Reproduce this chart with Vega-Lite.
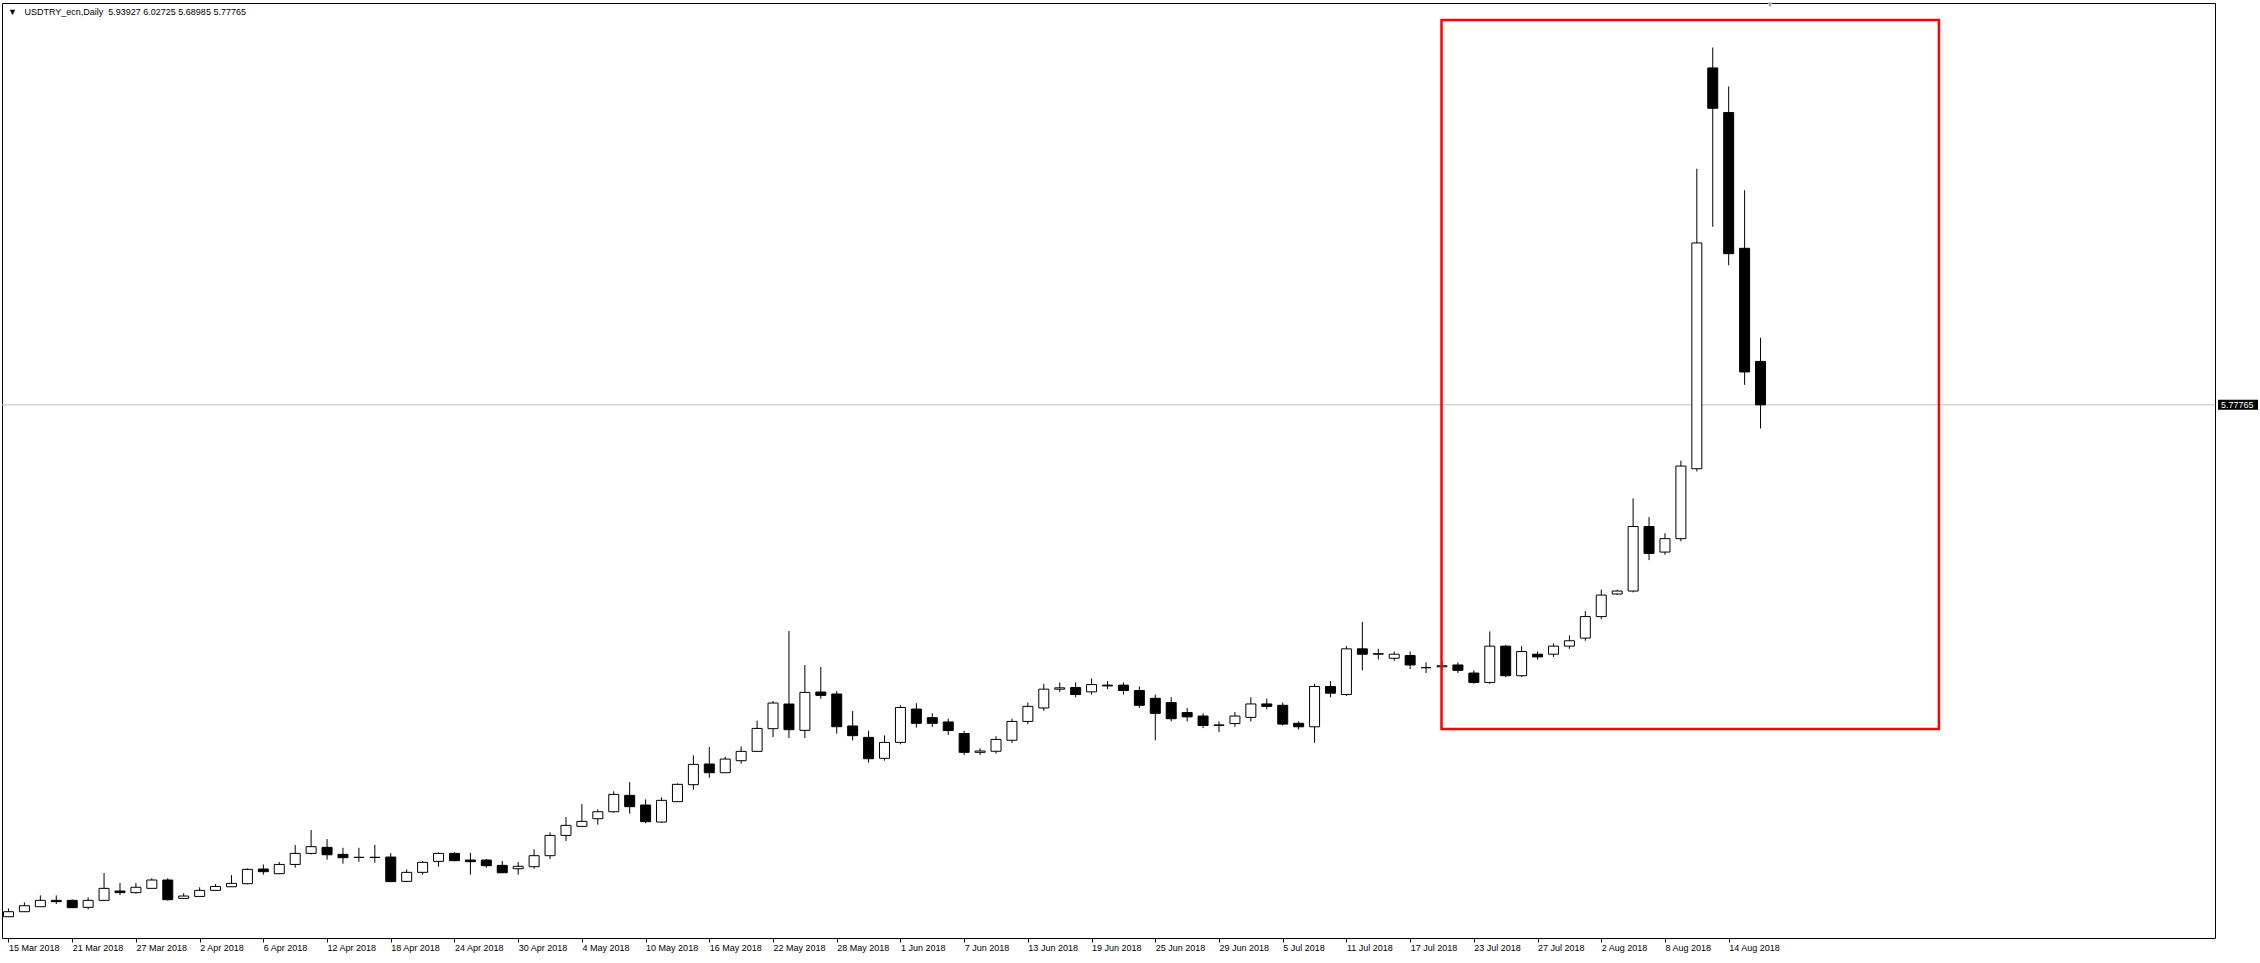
{
  "$schema": "https://vega.github.io/schema/vega-lite/v6.json",
  "width": 2213,
  "height": 935,
  "autosize": {"type": "none"},
  "padding": {"left": 2, "top": 3, "right": 45, "bottom": 25},
  "background": "white",
  "config": {
    "view": {"stroke": "black", "strokeWidth": 1},
    "font": "Liberation Sans"
  },
  "datasets": {
    "ohlc": [
      {"i":0,"date":"2018-03-15","o":3.8735,"h":3.9045,"l":3.8720,"c":3.8921},
      {"i":1,"date":"2018-03-16","o":3.8921,"h":3.9268,"l":3.8910,"c":3.9144},
      {"i":2,"date":"2018-03-19","o":3.9107,"h":3.9529,"l":3.9100,"c":3.9343},
      {"i":3,"date":"2018-03-20","o":3.9343,"h":3.9529,"l":3.9206,"c":3.9294},
      {"i":4,"date":"2018-03-21","o":3.9343,"h":3.9380,"l":3.9070,"c":3.9070},
      {"i":5,"date":"2018-03-22","o":3.9083,"h":3.9455,"l":3.9008,"c":3.9343},
      {"i":6,"date":"2018-03-23","o":3.9343,"h":4.0360,"l":3.9330,"c":3.9790},
      {"i":7,"date":"2018-03-26","o":3.9690,"h":3.9990,"l":3.9540,"c":3.9630},
      {"i":8,"date":"2018-03-27","o":3.9630,"h":3.9990,"l":3.9590,"c":3.9830},
      {"i":9,"date":"2018-03-28","o":3.9790,"h":4.0170,"l":3.9780,"c":4.0100},
      {"i":10,"date":"2018-03-29","o":4.0100,"h":4.0170,"l":3.9330,"c":3.9368},
      {"i":11,"date":"2018-03-30","o":3.9417,"h":3.9610,"l":3.9410,"c":3.9504},
      {"i":12,"date":"2018-04-02","o":3.9490,"h":3.9830,"l":3.9480,"c":3.9715},
      {"i":13,"date":"2018-04-03","o":3.9715,"h":3.9950,"l":3.9710,"c":3.9860},
      {"i":14,"date":"2018-04-04","o":3.9850,"h":4.0280,"l":3.9840,"c":3.9975},
      {"i":15,"date":"2018-04-05","o":3.9963,"h":4.0533,"l":3.9940,"c":4.0496},
      {"i":16,"date":"2018-04-06","o":4.0509,"h":4.0680,"l":4.0298,"c":4.0410},
      {"i":17,"date":"2018-04-09","o":4.0335,"h":4.0770,"l":4.0330,"c":4.0680},
      {"i":18,"date":"2018-04-10","o":4.0680,"h":4.1400,"l":4.0560,"c":4.1090},
      {"i":19,"date":"2018-04-11","o":4.1090,"h":4.1960,"l":4.1050,"c":4.1340},
      {"i":20,"date":"2018-04-12","o":4.1315,"h":4.1625,"l":4.0856,"c":4.1040},
      {"i":21,"date":"2018-04-13","o":4.1055,"h":4.1300,"l":4.0707,"c":4.0930},
      {"i":22,"date":"2018-04-16","o":4.0945,"h":4.1300,"l":4.0780,"c":4.0940},
      {"i":23,"date":"2018-04-17","o":4.0940,"h":4.1410,"l":4.0744,"c":4.0945},
      {"i":24,"date":"2018-04-18","o":4.0955,"h":4.1100,"l":4.0040,"c":4.0040},
      {"i":25,"date":"2018-04-19","o":4.0050,"h":4.0496,"l":4.0040,"c":4.0385},
      {"i":26,"date":"2018-04-20","o":4.0385,"h":4.0810,"l":4.0298,"c":4.0757},
      {"i":27,"date":"2018-04-23","o":4.0794,"h":4.1130,"l":4.0596,"c":4.1090},
      {"i":28,"date":"2018-04-24","o":4.1090,"h":4.1130,"l":4.0800,"c":4.0820},
      {"i":29,"date":"2018-04-25","o":4.0843,"h":4.1110,"l":4.0298,"c":4.0782},
      {"i":30,"date":"2018-04-26","o":4.0843,"h":4.0880,"l":4.0560,"c":4.0633},
      {"i":31,"date":"2018-04-27","o":4.0645,"h":4.0810,"l":4.0370,"c":4.0370},
      {"i":32,"date":"2018-04-30","o":4.0520,"h":4.0770,"l":4.0298,"c":4.0610},
      {"i":33,"date":"2018-05-01","o":4.0596,"h":4.1240,"l":4.0520,"c":4.1005},
      {"i":34,"date":"2018-05-02","o":4.1005,"h":4.1870,"l":4.0880,"c":4.1760},
      {"i":35,"date":"2018-05-03","o":4.1760,"h":4.2443,"l":4.1550,"c":4.2133},
      {"i":36,"date":"2018-05-04","o":4.2096,"h":4.2930,"l":4.2090,"c":4.2282},
      {"i":37,"date":"2018-05-07","o":4.2380,"h":4.2730,"l":4.2158,"c":4.2640},
      {"i":38,"date":"2018-05-08","o":4.2640,"h":4.3400,"l":4.2604,"c":4.3286},
      {"i":39,"date":"2018-05-09","o":4.3250,"h":4.3745,"l":4.2567,"c":4.2828},
      {"i":40,"date":"2018-05-10","o":4.2890,"h":4.3100,"l":4.2208,"c":4.2270},
      {"i":41,"date":"2018-05-11","o":4.2257,"h":4.3175,"l":4.2232,"c":4.3063},
      {"i":42,"date":"2018-05-14","o":4.3014,"h":4.3696,"l":4.3010,"c":4.3659},
      {"i":43,"date":"2018-05-15","o":4.3646,"h":4.4737,"l":4.3460,"c":4.4402},
      {"i":44,"date":"2018-05-16","o":4.4415,"h":4.5047,"l":4.3906,"c":4.4092},
      {"i":45,"date":"2018-05-17","o":4.4092,"h":4.4688,"l":4.4090,"c":4.4600},
      {"i":46,"date":"2018-05-18","o":4.4539,"h":4.5072,"l":4.4427,"c":4.4886},
      {"i":47,"date":"2018-05-21","o":4.4886,"h":4.6027,"l":4.4880,"c":4.5740},
      {"i":48,"date":"2018-05-22","o":4.5730,"h":4.6760,"l":4.5420,"c":4.6684},
      {"i":49,"date":"2018-05-23","o":4.6647,"h":4.9363,"l":4.5382,"c":4.5692},
      {"i":50,"date":"2018-05-24","o":4.5667,"h":4.8098,"l":4.5382,"c":4.7080},
      {"i":51,"date":"2018-05-25","o":4.7093,"h":4.8024,"l":4.6845,"c":4.6970},
      {"i":52,"date":"2018-05-28","o":4.7020,"h":4.7130,"l":4.5543,"c":4.5804},
      {"i":53,"date":"2018-05-29","o":4.5830,"h":4.6387,"l":4.5295,"c":4.5470},
      {"i":54,"date":"2018-05-30","o":4.5407,"h":4.5655,"l":4.4465,"c":4.4613},
      {"i":55,"date":"2018-05-31","o":4.4626,"h":4.5481,"l":4.4539,"c":4.5220},
      {"i":56,"date":"2018-06-01","o":4.5220,"h":4.6600,"l":4.5150,"c":4.6520},
      {"i":57,"date":"2018-06-04","o":4.6460,"h":4.6680,"l":4.5770,"c":4.5930},
      {"i":58,"date":"2018-06-05","o":4.6140,"h":4.6300,"l":4.5800,"c":4.5930},
      {"i":59,"date":"2018-06-06","o":4.5980,"h":4.6100,"l":4.5500,"c":4.5660},
      {"i":60,"date":"2018-06-07","o":4.5550,"h":4.5650,"l":4.4750,"c":4.4850},
      {"i":61,"date":"2018-06-08","o":4.4850,"h":4.5000,"l":4.4750,"c":4.4900},
      {"i":62,"date":"2018-06-11","o":4.4890,"h":4.5450,"l":4.4800,"c":4.5330},
      {"i":63,"date":"2018-06-12","o":4.5300,"h":4.6100,"l":4.5200,"c":4.6000},
      {"i":64,"date":"2018-06-13","o":4.6000,"h":4.6700,"l":4.5900,"c":4.6560},
      {"i":65,"date":"2018-06-14","o":4.6500,"h":4.7400,"l":4.6400,"c":4.7200},
      {"i":66,"date":"2018-06-15","o":4.7200,"h":4.7450,"l":4.7100,"c":4.7250},
      {"i":67,"date":"2018-06-18","o":4.7260,"h":4.7450,"l":4.6900,"c":4.7000},
      {"i":68,"date":"2018-06-19","o":4.7100,"h":4.7600,"l":4.7000,"c":4.7370},
      {"i":69,"date":"2018-06-20","o":4.7350,"h":4.7500,"l":4.7200,"c":4.7320},
      {"i":70,"date":"2018-06-21","o":4.7350,"h":4.7450,"l":4.7000,"c":4.7150},
      {"i":71,"date":"2018-06-22","o":4.7150,"h":4.7300,"l":4.6500,"c":4.6600},
      {"i":72,"date":"2018-06-25","o":4.6860,"h":4.7000,"l":4.5300,"c":4.6300},
      {"i":73,"date":"2018-06-26","o":4.6700,"h":4.6900,"l":4.6000,"c":4.6100},
      {"i":74,"date":"2018-06-27","o":4.6330,"h":4.6500,"l":4.6000,"c":4.6170},
      {"i":75,"date":"2018-06-28","o":4.6200,"h":4.6300,"l":4.5750,"c":4.5850},
      {"i":76,"date":"2018-06-29","o":4.5850,"h":4.6000,"l":4.5600,"c":4.5870},
      {"i":77,"date":"2018-07-02","o":4.5920,"h":4.6350,"l":4.5800,"c":4.6200},
      {"i":78,"date":"2018-07-03","o":4.6150,"h":4.6900,"l":4.6000,"c":4.6650},
      {"i":79,"date":"2018-07-04","o":4.6650,"h":4.6850,"l":4.6450,"c":4.6560},
      {"i":80,"date":"2018-07-05","o":4.6600,"h":4.6700,"l":4.5850,"c":4.5900},
      {"i":81,"date":"2018-07-06","o":4.5930,"h":4.6000,"l":4.5700,"c":4.5800},
      {"i":82,"date":"2018-07-09","o":4.5800,"h":4.7400,"l":4.5200,"c":4.7300},
      {"i":83,"date":"2018-07-10","o":4.7300,"h":4.7500,"l":4.6900,"c":4.7050},
      {"i":84,"date":"2018-07-11","o":4.7000,"h":4.8800,"l":4.6950,"c":4.8700},
      {"i":85,"date":"2018-07-12","o":4.8700,"h":4.9700,"l":4.7900,"c":4.8500},
      {"i":86,"date":"2018-07-13","o":4.8500,"h":4.8700,"l":4.8300,"c":4.8520},
      {"i":87,"date":"2018-07-16","o":4.8350,"h":4.8600,"l":4.8250,"c":4.8500},
      {"i":88,"date":"2018-07-17","o":4.8450,"h":4.8600,"l":4.7950,"c":4.8100},
      {"i":89,"date":"2018-07-18","o":4.8000,"h":4.8200,"l":4.7800,"c":4.8000},
      {"i":90,"date":"2018-07-19","o":4.8030,"h":4.8250,"l":4.7900,"c":4.8070},
      {"i":91,"date":"2018-07-20","o":4.8100,"h":4.8200,"l":4.7800,"c":4.7900},
      {"i":92,"date":"2018-07-23","o":4.7800,"h":4.7900,"l":4.7400,"c":4.7450},
      {"i":93,"date":"2018-07-24","o":4.7450,"h":4.9350,"l":4.7400,"c":4.8800},
      {"i":94,"date":"2018-07-25","o":4.8800,"h":4.8850,"l":4.7650,"c":4.7700},
      {"i":95,"date":"2018-07-26","o":4.7700,"h":4.8800,"l":4.7650,"c":4.8600},
      {"i":96,"date":"2018-07-27","o":4.8500,"h":4.8600,"l":4.8300,"c":4.8400},
      {"i":97,"date":"2018-07-30","o":4.8500,"h":4.8900,"l":4.8400,"c":4.8800},
      {"i":98,"date":"2018-07-31","o":4.8800,"h":4.9200,"l":4.8700,"c":4.9000},
      {"i":99,"date":"2018-08-01","o":4.9100,"h":5.0100,"l":4.9000,"c":4.9900},
      {"i":100,"date":"2018-08-02","o":4.9900,"h":5.0900,"l":4.9800,"c":5.0700},
      {"i":101,"date":"2018-08-03","o":5.0740,"h":5.0900,"l":5.0700,"c":5.0850},
      {"i":102,"date":"2018-08-06","o":5.0850,"h":5.4300,"l":5.0800,"c":5.3250},
      {"i":103,"date":"2018-08-07","o":5.3250,"h":5.3600,"l":5.2000,"c":5.2250},
      {"i":104,"date":"2018-08-08","o":5.2300,"h":5.3000,"l":5.2200,"c":5.2800},
      {"i":105,"date":"2018-08-09","o":5.2800,"h":5.5700,"l":5.2700,"c":5.5500},
      {"i":106,"date":"2018-08-10","o":5.5400,"h":6.6560,"l":5.5300,"c":6.3800},
      {"i":107,"date":"2018-08-13","o":7.0310,"h":7.1070,"l":6.4400,"c":6.8810},
      {"i":108,"date":"2018-08-14","o":6.8650,"h":6.9620,"l":6.2970,"c":6.3400},
      {"i":109,"date":"2018-08-15","o":6.3600,"h":6.5760,"l":5.8520,"c":5.9000},
      {"i":110,"date":"2018-08-16","o":5.93927,"h":6.02725,"l":5.68985,"c":5.77765}
    ],
    "last": [{"price": 5.77765}],
    "zone": [{"from": 89.97, "to": 121.2, "low": 4.5717, "high": 7.2093}],
    "header": [{"label": "▼\u00a0\u00a0\u00a0USDTRY_ecn,Daily\u00a0\u00a05.93927 6.02725 5.68985 5.77765", "at": -0.03, "level": 7.228}],
    "shift": [{"at": 110.6, "level": 7.2655}]
  },
  "layer": [
    {
      "data": {"name": "last"},
      "mark": {"type": "rule", "color": "#c0c0c0", "strokeWidth": 1},
      "encoding": {
        "y": {"field": "price", "type": "quantitative", "axis": null}
      }
    },
    {
      "data": {"name": "ohlc"},
      "mark": {"type": "rule", "color": "black", "strokeWidth": 1},
      "encoding": {
        "x": {
          "field": "i",
          "type": "quantitative",
          "scale": {"domain": [-0.09375, 138.21875], "nice": false, "zero": false},
          "axis": {
            "orient": "bottom",
            "title": null,
            "grid": false,
            "domain": false,
            "values": [0,4,8,12,16,20,24,28,32,36,40,44,48,52,56,60,64,68,72,76,80,84,88,92,96,100,104,108],
            "labelExpr": "['15 Mar 2018','21 Mar 2018','27 Mar 2018','2 Apr 2018','6 Apr 2018','12 Apr 2018','18 Apr 2018','24 Apr 2018','30 Apr 2018','4 May 2018','10 May 2018','16 May 2018','22 May 2018','28 May 2018','1 Jun 2018','7 Jun 2018','13 Jun 2018','19 Jun 2018','25 Jun 2018','29 Jun 2018','5 Jul 2018','11 Jul 2018','17 Jul 2018','23 Jul 2018','27 Jul 2018','2 Aug 2018','8 Aug 2018','14 Aug 2018'][round(datum.value / 4)]",
            "labelAlign": "left",
            "labelBaseline": "top",
            "labelFlush": false,
            "labelOverlap": false,
            "labelBound": false,
            "labelPadding": 1,
            "labelFontSize": 9,
            "labelFont": "Liberation Sans",
            "labelColor": "black",
            "tickSize": 4,
            "tickColor": "black"
          }
        },
        "y": {
          "field": "l",
          "type": "quantitative",
          "scale": {"domain": [3.7943, 7.2726], "nice": false, "zero": false},
          "axis": {
            "orient": "right",
            "title": null,
            "grid": false,
            "domain": false,
            "values": [7.2391,7.117,6.9949,6.8691,6.747,6.6249,6.5028,6.3807,6.2586,6.1365,6.0107,5.8886,5.7665,5.6444,5.5223,5.4002,5.2744,5.1523,5.0302,4.9081,4.786,4.6639,4.5381,4.416,4.2939,4.1718,4.0497,3.9276,3.8055],
            "format": ".5f",
            "labelOverlap": false,
            "labelBound": false,
            "labelFlush": false,
            "labelPadding": 3,
            "labelFontSize": 9,
            "labelFont": "Liberation Sans",
            "labelColor": "black",
            "tickSize": 3,
            "tickColor": "black"
          }
        },
        "y2": {"field": "h"}
      }
    },
    {
      "data": {"name": "ohlc"},
      "mark": {"type": "bar", "width": 10, "stroke": "black", "strokeWidth": 1},
      "encoding": {
        "x": {"field": "i", "type": "quantitative"},
        "y": {"field": "o", "type": "quantitative"},
        "y2": {"field": "c"},
        "fill": {
          "condition": {"test": "datum.c >= datum.o", "value": "white"},
          "value": "black"
        }
      }
    },
    {
      "data": {"name": "zone"},
      "mark": {"type": "rect", "fillOpacity": 0, "stroke": "#ff0000", "strokeWidth": 2.5},
      "encoding": {
        "x": {"field": "from", "type": "quantitative"},
        "x2": {"field": "to"},
        "y": {"field": "low", "type": "quantitative"},
        "y2": {"field": "high"}
      }
    },
    {
      "data": {"name": "header"},
      "mark": {"type": "text", "align": "left", "baseline": "alphabetic", "fontSize": 9, "font": "Liberation Sans", "color": "black"},
      "encoding": {
        "x": {"field": "at", "type": "quantitative"},
        "y": {"field": "level", "type": "quantitative"},
        "text": {"field": "label"}
      }
    },
    {
      "data": {"name": "shift"},
      "mark": {"type": "point", "shape": "triangle-down", "size": 30, "filled": true, "fill": "#a0a0a0", "stroke": null, "opacity": 1},
      "encoding": {
        "x": {"field": "at", "type": "quantitative"},
        "y": {"field": "level", "type": "quantitative"}
      }
    },
    {
      "data": {"name": "last"},
      "mark": {"type": "point", "shape": "M-2,-0.5H2V0.5H-2Z", "size": 400, "filled": true, "fill": "black", "stroke": null, "opacity": 1, "xOffset": 23},
      "encoding": {
        "x": {"value": "width"},
        "y": {"field": "price", "type": "quantitative"}
      }
    },
    {
      "data": {"name": "last"},
      "mark": {"type": "text", "align": "left", "baseline": "middle", "dx": 6, "fontSize": 9, "font": "Liberation Sans", "color": "white"},
      "encoding": {
        "x": {"value": "width"},
        "y": {"field": "price", "type": "quantitative"},
        "text": {"field": "price", "type": "quantitative", "format": ".5f"}
      }
    }
  ]
}
